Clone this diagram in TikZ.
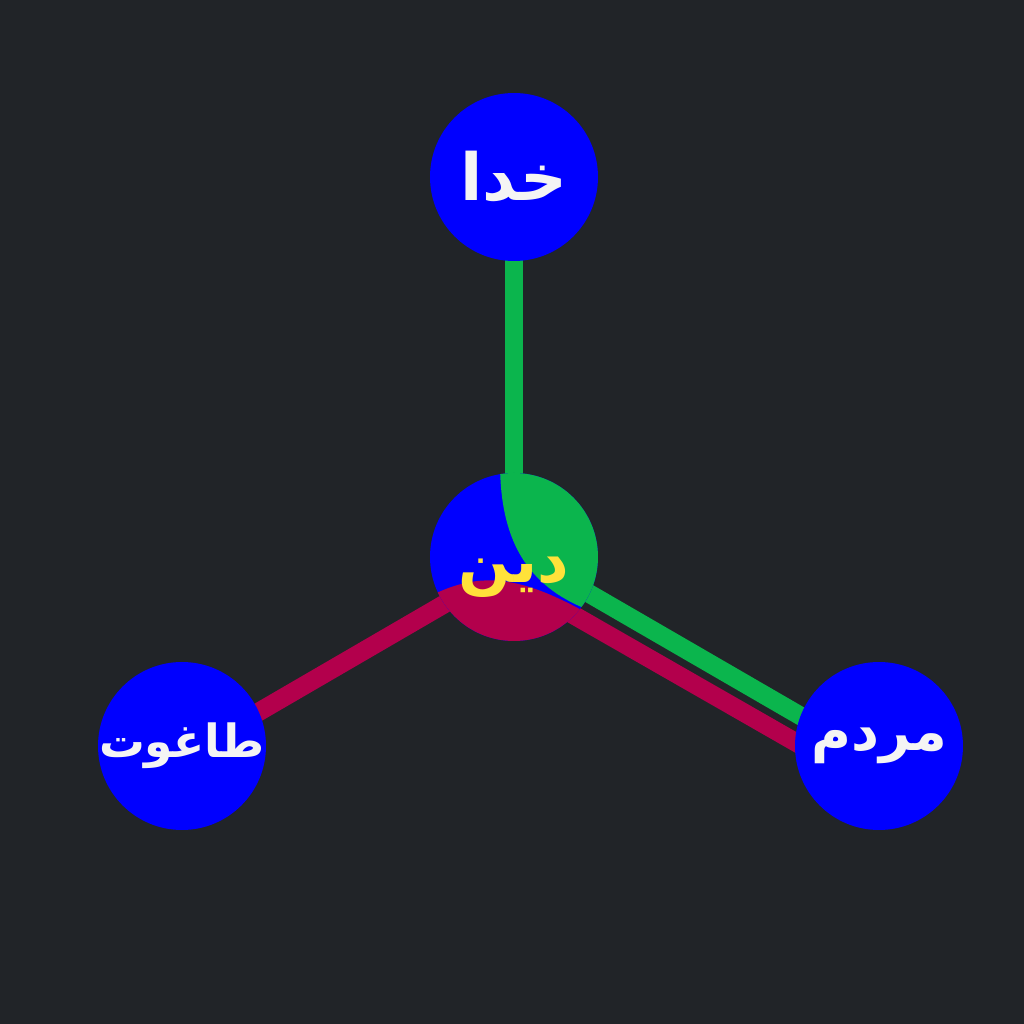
\documentclass[tikz,border=0pt]{standalone}
\usepackage{fontspec}
\usetikzlibrary{backgrounds}
\TeXXeTstate=1
\newfontfamily\fa[Script=Arabic]{DejaVu Sans}
\definecolor{bg}{HTML}{212428}
\definecolor{nodeblue}{HTML}{0000FF}
\definecolor{linkgreen}{HTML}{0BB54D}
\definecolor{linkred}{HTML}{B3004C}
\definecolor{txtyellow}{HTML}{FFE23A}
\definecolor{txtwhite}{HTML}{F4F4F4}
\newcommand{\fasize}[2]{\makebox[0pt]{\fontsize{#1}{#1}\selectfont\beginR #2\endR}}
\tikzset{
  concept/.style={circle, fill=nodeblue, minimum size=16.8mm, inner sep=0pt,
    text=txtwhite, font=\fa\bfseries},
  link/.style={line width=1.85mm, shorten <=-3mm, shorten >=-3mm}
}

\begin{document}
\begin{tikzpicture}
\useasboundingbox (0,0) rectangle (10.24,10.24);

\node[concept] (khoda) at (5.14,8.47) {\fasize{18.5}{خدا}};
\node[concept, fill=none, text=txtyellow] (din) at (5.14,4.67) {\raisebox{-2.6mm}[0pt][0pt]{\fasize{17.5}{دین}}};
\node[concept] (taghut) at (1.82,2.78) {\fasize{13}{طاغوت}};
\node[concept] (mardom) at (8.79,2.78) {\fasize{15.5}{مردم}};

\begin{scope}[on background layer]
  \fill[bg] (0,0) rectangle (10.24,10.24);
  % links
  \draw[link, linkgreen] (khoda.-90) -- (din.90);
  \draw[link, linkgreen] (din.-26) -- (mardom.159);
  \draw[link, linkred] (din.-44) -- (mardom.177);
  \draw[link, linkred] (taghut.24) -- (din.214);
  % the middle circle, split in three
  \fill[nodeblue] (din.center) circle (8.4mm);
  \begin{scope}[shift={(din.center)}, x=0.1mm, y=0.1mm]
    \clip (0,0) circle (84);
    \fill[linkgreen] (-14,95) .. controls (-14,20) and (10,-30) .. (80,-55)
      -- (120,-55) -- (120,95) -- cycle;
    \fill[linkred] (-95,-45) .. controls (-40,-14) and (0,-14) .. (80,-60)
      -- (80,-100) -- (-95,-100) -- cycle;
  \end{scope}
\end{scope}

\end{tikzpicture}
\end{document}
